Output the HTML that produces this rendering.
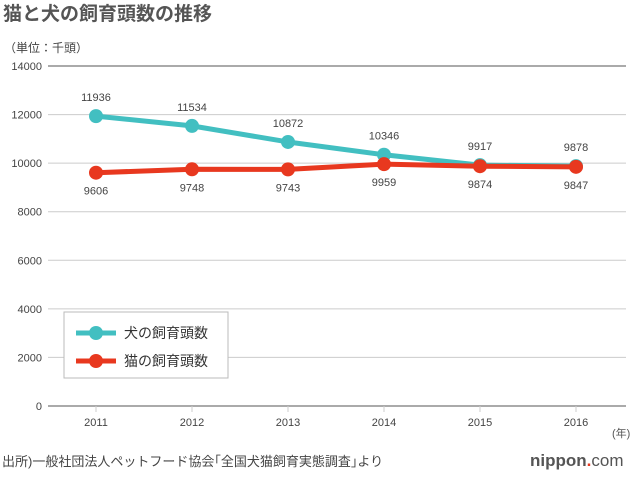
<!DOCTYPE html>
<html><head><meta charset="utf-8"><style>
body{margin:0;background:#fff;}
svg text{font-family:"Liberation Sans","Noto Sans CJK JP",sans-serif;}
</style></head><body>
<svg width="640" height="472" xmlns="http://www.w3.org/2000/svg" id="chart">
<text x="3" y="20" font-size="19" font-weight="bold" fill="#555">猫と犬の飼育頭数の推移</text>
<text x="4" y="52" font-size="12" fill="#444">（単位：千頭）</text>
<g id="grid"></g><g id="axes"></g><g id="series"></g>
<g>
<rect x="64" y="312" width="164" height="66" fill="#fff" stroke="#bbb"/>
<g>
<line x1="76" y1="333" x2="116" y2="333" stroke="#42bfc1" stroke-width="5"/><circle cx="96" cy="333" r="7" fill="#42bfc1"/>
<text x="124" y="338" font-size="14" fill="#333">犬の飼育頭数</text></g>
<g>
<line x1="76" y1="361" x2="116" y2="361" stroke="#e8381f" stroke-width="5"/><circle cx="96" cy="361" r="7" fill="#e8381f"/>
<text x="124" y="366" font-size="14" fill="#333">猫の飼育頭数</text></g>
</g>
<text x="612" y="437" font-size="11" fill="#555">(年)</text>
<text x="2" y="466" font-size="13" fill="#444">出所)一般社団法人ペットフード協会｢全国犬猫飼育実態調査｣より</text>
<text x="530" y="466" font-size="17" fill="#555"><tspan font-weight="bold">nippon</tspan><tspan fill="#e8381f" font-weight="bold">.</tspan>com</text>
</svg>
<script>
const years=[2011,2012,2013,2014,2015,2016];
const dogs=[11936,11534,10872,10346,9917,9878];
const cats=[9606,9748,9743,9959,9874,9847];
const yTicks=[0,2000,4000,6000,8000,10000,12000,14000];
const NS="http://www.w3.org/2000/svg";
const x=i=>96+i*96;
const y=v=>406-v*340/14000;
function mk(t,a,p,txt){const e=document.createElementNS(NS,t);for(const k in a)e.setAttribute(k,a[k]);if(txt!==undefined)e.textContent=txt;p.appendChild(e);return e;}
const grid=document.getElementById('grid'),axes=document.getElementById('axes'),ser=document.getElementById('series');
yTicks.forEach(v=>{
 const l=mk('line',{x1:48,x2:626,y1:y(v),y2:y(v),stroke:(v===0||v===14000)?'#555':'#ccc','stroke-width':1},grid);
 
 
 const t=mk('text',{x:42,y:y(v)+4,'font-size':11,fill:'#444','text-anchor':'end'},axes,v);
 
 
});
years.forEach((yr,i)=>{
 const l=mk('line',{x1:x(i),x2:x(i),y1:406,y2:412,stroke:'#ccc'},axes);
 
 
 const t=mk('text',{x:x(i),y:426,'font-size':11,fill:'#444','text-anchor':'middle'},axes,yr);
 
 
});
function draw(vals,color,name,above){
 const p=mk('polyline',{points:vals.map((v,i)=>x(i)+','+y(v)).join(' '),fill:'none',stroke:color,'stroke-width':5,'stroke-linejoin':'round'},ser);
 
 
 vals.forEach((v,i)=>{
  const c=mk('circle',{cx:x(i),cy:y(v),r:7,fill:color},ser);
  
  
  const t=mk('text',{x:x(i),y:above?y(v)-15:y(v)+22,'font-size':11,fill:'#444','text-anchor':'middle'},ser,v);
  
  
 });
}
draw(dogs,'#42bfc1','dogs',true);
draw(cats,'#e8381f','cats',false);
</script>
</body></html>
